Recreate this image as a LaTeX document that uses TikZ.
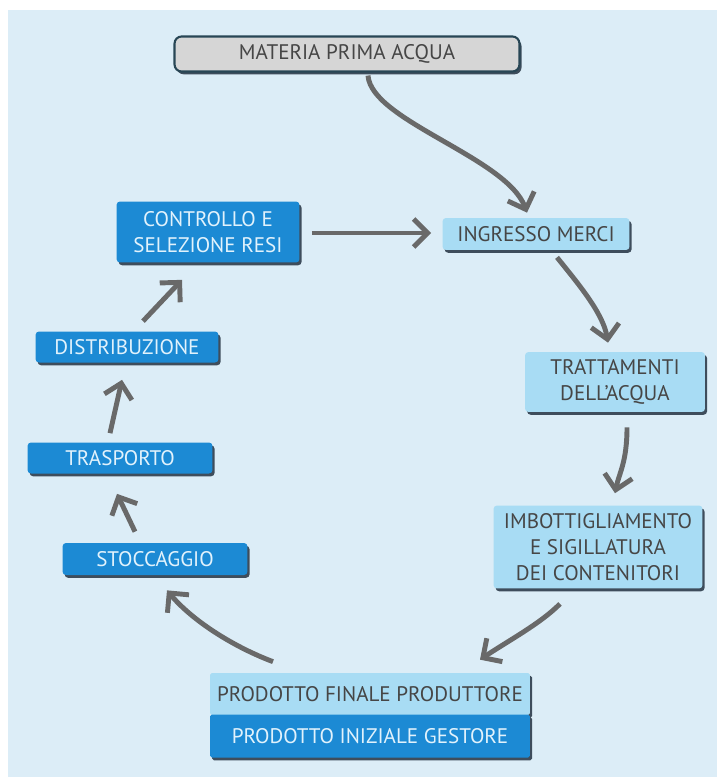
\documentclass[tikz,border=0pt]{standalone}
\usepackage{fontspec}
\setmainfont{PT Sans}
\usetikzlibrary{arrows.meta,calc,shadows}
\definecolor{bgblue}{RGB}{220,237,247}
\definecolor{darkbox}{RGB}{28,138,212}
\definecolor{lightbox}{RGB}{168,220,244}
\definecolor{greybox}{RGB}{214,214,214}
\definecolor{rimcol}{RGB}{40,70,85}
\definecolor{arrowgrey}{RGB}{105,105,105}
\definecolor{textgrey}{RGB}{70,70,70}
\definecolor{paletext}{RGB}{225,242,252}
\definecolor{shadowcol}{RGB}{35,50,65}
\begin{document}
\begin{tikzpicture}[x=0.02cm, y=-0.02cm,
  box/.style={rounded corners=2pt, inner sep=2pt, align=center, font=\fontsize{12}{15}\selectfont,
    drop shadow={shadow xshift=1.2pt, shadow yshift=-1.6pt, fill=shadowcol, opacity=0.85}},
  darkstep/.style={box, fill=darkbox, text=paletext},
  lightstep/.style={box, fill=lightbox, text=textgrey},
  flow/.style={draw=arrowgrey, line width=2.8pt, -{Straight Barb[length=8pt, width=16pt]}}]
  \useasboundingbox (0,0) rectangle (717,777);
  \fill[bgblue] (8,10) rectangle (717,777);

  \node (materia) at (347, 54) [box, fill=greybox, text=textgrey, draw=rimcol, line width=1.2pt, rounded corners=4pt, minimum width=6.9cm, minimum height=0.7cm] {MATERIA PRIMA ACQUA};
  \node (ingresso) at (536, 234) [lightstep, minimum width=3.74cm, minimum height=0.64cm] {INGRESSO MERCI};
  \node (controllo) at (208, 232) [darkstep, minimum width=3.66cm, minimum height=1.22cm] {CONTROLLO E\\SELEZIONE RESI};
  \node (trattamenti) at (615, 382) [lightstep, minimum width=3.6cm, minimum height=1.2cm] {TRATTAMENTI\\DELL'ACQUA};
  \node (imbott) at (598, 547) [lightstep, minimum width=4.18cm, minimum height=1.66cm] {IMBOTTIGLIAMENTO\\E SIGILLATURA\\DEI CONTENITORI};
  \node (distribuzione) at (127, 347) [darkstep, minimum width=3.66cm, minimum height=0.62cm] {DISTRIBUZIONE};
  \node (trasporto) at (120, 458) [darkstep, minimum width=3.7cm, minimum height=0.62cm] {TRASPORTO};
  \node (stoccaggio) at (155, 559) [darkstep, minimum width=3.7cm, minimum height=0.64cm] {STOCCAGGIO};
  \node (finale) at (370, 694) [lightstep, rounded corners=1pt, minimum width=6.4cm, minimum height=0.84cm] {PRODOTTO FINALE PRODUTTORE};
  \node (iniziale) at (370, 736) [darkstep, rounded corners=1pt, minimum width=6.4cm, minimum height=0.86cm] {PRODOTTO INIZIALE GESTORE};

  \draw[flow] ($(materia.south)+(21,3)$) .. controls +(3,45) and +(-20,-55) .. ($(ingresso.north)+(-9,-5)$);
  \draw[flow] ($(controllo.east)+(12,1)$) -- ($(ingresso.west)+(-11,-1)$);
  \draw[flow] ($(ingresso.south)+(21,7)$) .. controls +(20,25) and +(-5,-30) .. ($(trattamenti.north)+(-7,-9)$);
  \draw[flow] ($(trattamenti.south)+(12,15)$) .. controls +(0,35) and +(4,-20) .. ($(imbott.north)+(17,-12)$);
  \draw[flow] ($(imbott.south)+(-38,15)$) .. controls +(-20,20) and +(30,-20) .. ($(finale.north)+(110,-13)$);
  \draw[flow] ($(finale.north)+(-97,-11)$) .. controls +(-40,-15) and +(25,30) .. ($(stoccaggio.south)+(12,15)$);
  \draw[flow] ($(stoccaggio.north)+(-20,-11)$) -- ($(trasporto.south)+(-3,20)$);
  \draw[flow] ($(trasporto.north)+(-10,-9)$) -- ($(distribuzione.south)+(-5,17)$);
  \draw[flow] ($(distribuzione.north)+(16,-10)$) -- ($(controllo.south)+(-26,17)$);
\end{tikzpicture}
\end{document}
